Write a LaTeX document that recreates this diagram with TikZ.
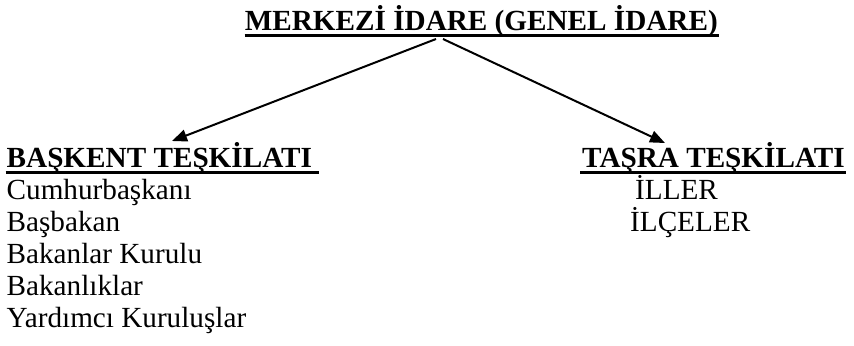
\documentclass[tikz,border=0pt]{standalone}
\usepackage{fontspec}
\setmainfont{Liberation Serif}
\usetikzlibrary{arrows.meta,calc}
\tikzset{
	txt/.style={anchor=base west, inner sep=0pt, font=\fontsize{29.2bp}{32bp}\selectfont},
	hdr/.style={txt, font=\fontsize{29.2bp}{32bp}\selectfont\bfseries},
	uline/.style={line width=2.6bp},
	link/.style={line width=2bp, -{Triangle[length=15bp,width=12bp]}}
}

\begin{document}
\begin{tikzpicture}[x=1bp, y=-1bp]
	\useasboundingbox (0,0) rectangle (854,345);
	\node[hdr, anchor=base east] (merkez) at (718,30) {MERKEZİ İDARE (GENEL İDARE)};
	\draw[uline] ($(merkez.base west)+(0,5.5)$) -- ($(merkez.base east)+(1,5.5)$);

	\node[hdr] (baskent) at (6.5,167) {BAŞKENT TEŞKİLATI};
	\draw[uline] ($(baskent.base west)+(-1,5.5)$) -- ($(baskent.base east)+(7,5.5)$);
	\node[txt] (cumhur) at (6.5,199) {Cumhurbaşkanı};
	\node[txt] (basbakan) at (6.5,231) {Başbakan};
	\node[txt] (kurul) at (6.5,263) {Bakanlar Kurulu};
	\node[txt] (bakanlik) at (6.5,295) {Bakanlıklar};
	\node[txt] (yardimci) at (6.5,327) {Yardımcı Kuruluşlar};

	\node[hdr] (tasra) at (582,167) {TAŞRA TEŞKİLATI};
	\draw[uline] ($(tasra.base west)+(-2,5.5)$) -- ($(tasra.base east)+(1,5.5)$);
	\node[txt] (iller) at (635,199) {İLLER};
	\node[txt] (ilceler) at (630,231) {İLÇELER};

	\coordinate (fromL) at (436,39);
	\coordinate (fromR) at (443,39);
	\coordinate (toL) at (172,141);
	\coordinate (toR) at (665,143);
	\draw[link] (fromL) -- (toL);
	\draw[link] (fromR) -- (toR);
\end{tikzpicture}
\end{document}
